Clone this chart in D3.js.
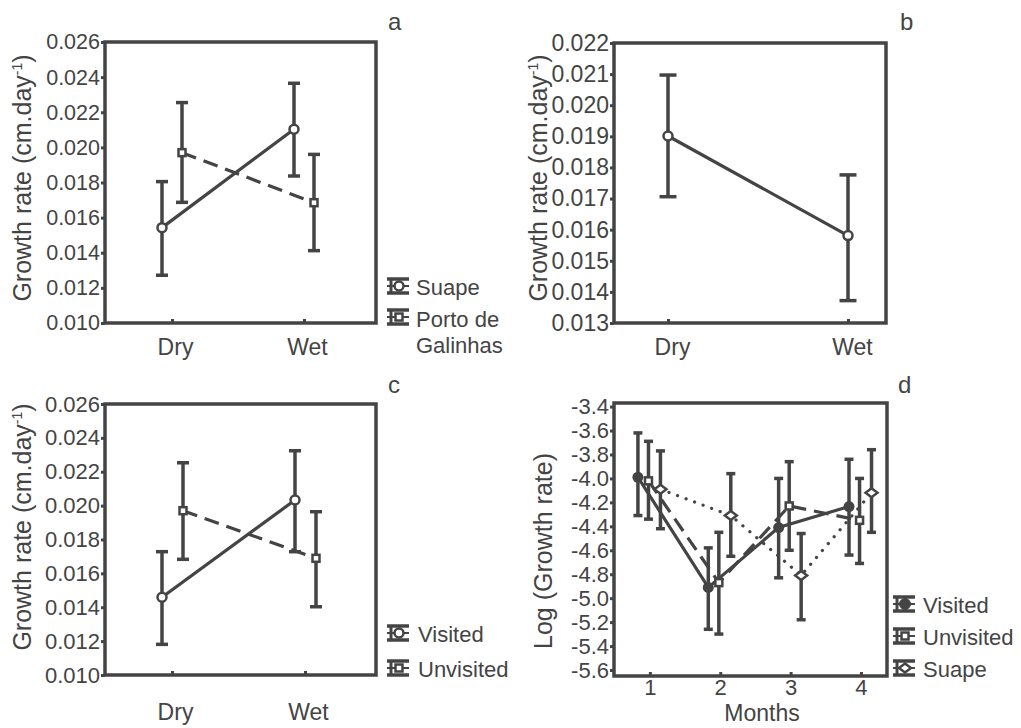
<!DOCTYPE html>
<html>
<head>
<meta charset="utf-8">
<script src="https://cdn.jsdelivr.net/npm/d3@7"></script>
<style>
body { margin: 0; background: #fff; }
svg { display: block; font-family: "Liberation Sans", Arial, sans-serif; }
.axis path { display: none; }
.axis line { stroke: #444; stroke-width: 3; }
.axis text { fill: #444; }
</style>
</head>
<body>
<script>
// categories / ticks
const seasons = ['Dry', 'Wet'];
const months = [1, 2, 3, 4];
const ticksAC = [0.010, 0.012, 0.014, 0.016, 0.018, 0.020, 0.022, 0.024, 0.026];
const ticksB = [0.013, 0.014, 0.015, 0.016, 0.017, 0.018, 0.019, 0.020, 0.021, 0.022];
const ticksD = [-3.4, -3.6, -3.8, -4.0, -4.2, -4.4, -4.6, -4.8, -5.0, -5.2, -5.4, -5.6];

// panel a: Suape vs Porto de Galinhas
const aSuapeMean = [0.01543, 0.02103];
const aSuapeLow  = [0.01272, 0.01837];
const aSuapeHigh = [0.01805, 0.02365];
const aPortoMean = [0.01970, 0.01685];
const aPortoLow  = [0.01687, 0.01412];
const aPortoHigh = [0.02255, 0.01960];

// panel b: pooled
const bMean = [0.01901, 0.01581];
const bLow  = [0.01706, 0.01372];
const bHigh = [0.02097, 0.01776];

// panel c: visited vs unvisited
const cVisitedMean   = [0.01459, 0.02033];
const cVisitedLow    = [0.01181, 0.01728];
const cVisitedHigh   = [0.01728, 0.02324];
const cUnvisitedMean = [0.01970, 0.01689];
const cUnvisitedLow  = [0.01683, 0.01403];
const cUnvisitedHigh = [0.02253, 0.01964];

// panel d: log growth rate by month
const dVisitedMean   = [-3.99, -4.91, -4.41, -4.235];
const dVisitedLow    = [-4.31, -5.26, -4.83, -4.64];
const dVisitedHigh   = [-3.62, -4.58, -4.00, -3.84];
const dUnvisitedMean = [-4.02, -4.87, -4.23, -4.35];
const dUnvisitedLow  = [-4.34, -5.30, -4.60, -4.71];
const dUnvisitedHigh = [-3.69, -4.45, -3.86, -4.00];
const dSuapeMean     = [-4.09, -4.31, -4.81, -4.12];
const dSuapeLow      = [-4.42, -4.65, -5.18, -4.45];
const dSuapeHigh     = [-3.77, -3.96, -4.46, -3.76];

const ink = '#444';

const svg = d3.select('body')
  .append('svg')
  .attr('width', 1021)
  .attr('height', 728);

function marker(sel, kind) {
  if (kind === 'circle') {
    sel.append('circle').attr('r', 4.5).attr('fill', '#fff').attr('stroke', ink).attr('stroke-width', 2.5);
  } else if (kind === 'dot') {
    sel.append('circle').attr('r', 5.5).attr('fill', ink);
  } else if (kind === 'square') {
    sel.append('rect').attr('x', -3.5).attr('y', -3.5).attr('width', 7).attr('height', 7)
      .attr('fill', '#fff').attr('stroke', ink).attr('stroke-width', 2.5);
  } else if (kind === 'diamond') {
    sel.append('path').attr('d', 'M0,-4.5L6,0L0,4.5L-6,0Z')
      .attr('fill', '#fff').attr('stroke', ink).attr('stroke-width', 2.5);
  }
}

function drawPanel(p) {
  const g = svg.append('g').attr('transform', `translate(${p.left}, ${p.top})`);

  // y axis
  g.append('g')
    .attr('class', 'axis')
    .call(d3.axisLeft(p.y).tickValues(p.yTicks).tickFormat(p.fmt)
      .tickSizeInner(4).tickSizeOuter(0).tickPadding(1))
    .selectAll('text').style('font-size', p.tickFont + 'px');

  // x axis (ticks point inward)
  g.append('g')
    .attr('class', 'axis')
    .attr('transform', `translate(0, ${p.height})`)
    .call(d3.axisBottom(p.x).tickValues(p.xTicks).tickFormat(p.xFmt)
      .tickSizeInner(-4).tickSizeOuter(0).tickPadding(p.xPad))
    .selectAll('text').style('font-size', p.xFont + 'px').attr('dx', p.xDx || 0);

  // frame
  g.append('rect')
    .attr('width', p.width).attr('height', p.height)
    .attr('fill', 'none').attr('stroke', ink).attr('stroke-width', 3.5);

  p.series.forEach((s) => {
    const pts = s.mean.map((m, i) => ({ x: p.pos(i, s.shift), m, lo: s.low[i], hi: s.high[i] }));
    const eb = g.append('g').attr('stroke', ink).attr('stroke-width', 3.5);
    pts.forEach((d) => {
      eb.append('line').attr('x1', d.x).attr('x2', d.x).attr('y1', p.y(d.lo)).attr('y2', p.y(d.hi));
      [d.lo, d.hi].forEach((v) => {
        eb.append('line').attr('x1', d.x - p.cap).attr('x2', d.x + p.cap)
          .attr('y1', p.y(v)).attr('y2', p.y(v));
      });
    });
    s.pts = pts;
  });

  p.series.forEach((s) => {
    g.append('path')
      .datum(s.pts)
      .attr('fill', 'none')
      .attr('stroke', ink)
      .attr('stroke-width', 3.2)
      .attr('stroke-linecap', s.dash === 'dot' ? 'round' : 'butt')
      .attr('stroke-dasharray', s.dash === 'dash' ? '15,8' : s.dash === 'dot' ? '0.1,9' : null)
      .attr('d', d3.line().x((d) => d.x).y((d) => p.y(d.m)));
  });

  p.series.forEach((s) => {
    s.pts.forEach((d) => {
      g.append('g').attr('transform', `translate(${d.x}, ${p.y(d.m)})`).call(marker, s.marker);
    });
  });

  // y title
  const t = svg.append('text')
    .attr('transform', `translate(${p.titleX}, ${p.titleY}) rotate(-90)`)
    .attr('text-anchor', 'middle')
    .attr('fill', ink)
    .style('font-size', '25px');
  if (p.unit) {
    t.append('tspan').text('Growth rate (cm.day');
    t.append('tspan').attr('dy', -9).style('font-size', '14px').text('-1');
    t.append('tspan').attr('dy', 9).text(')');
  } else {
    t.text(p.title);
  }

  // panel letter
  svg.append('text').attr('x', p.letterX).attr('y', p.letterY)
    .attr('fill', ink).style('font-size', '24px').text(p.letter);

  // legend
  (p.legend || []).forEach((l) => {
    const ig = svg.append('g').attr('transform', `translate(${l.ix}, ${l.iy})`)
      .attr('stroke', ink);
    ig.append('line').attr('x1', 0).attr('x2', 22).attr('y1', -7).attr('y2', -7).attr('stroke-width', 3.5);
    ig.append('line').attr('x1', 0).attr('x2', 22).attr('y1', 7).attr('y2', 7).attr('stroke-width', 3.5);
    ig.append('line').attr('x1', 0).attr('x2', 22).attr('y1', 0).attr('y2', 0).attr('stroke-width', 2);
    ig.append('line').attr('x1', 4).attr('x2', 4).attr('y1', -7).attr('y2', 7).attr('stroke-width', 3);
    ig.append('g').attr('transform', 'translate(12, 0)').call(marker, l.marker);
    l.lines.forEach((txt, k) => {
      svg.append('text').attr('x', l.tx).attr('y', l.ty + k * 26)
        .attr('fill', ink).style('font-size', '22px').text(txt);
    });
  });
}

const fmt3 = (d) => d.toFixed(3);

// a
drawPanel({
  left: 105, top: 42, width: 271, height: 281,
  x: d3.scalePoint().domain(seasons).range([67, 199]),
  y: d3.scaleLinear().domain([0.010, 0.026]).range([281, 0]),
  pos: function (i, shift) { return this.x(seasons[i]) + shift; },
  yTicks: ticksAC, fmt: fmt3, tickFont: 21.5,
  xTicks: seasons, xFmt: (d) => d, xFont: 23, xPad: 16, xDx: 3, cap: 6,
  series: [
    { mean: aSuapeMean, low: aSuapeLow, high: aSuapeHigh, shift: -10, dash: null, marker: 'circle' },
    { mean: aPortoMean, low: aPortoLow, high: aPortoHigh, shift: 10, dash: 'dash', marker: 'square' }
  ],
  unit: true, titleX: 31, titleY: 178,
  letter: 'a', letterX: 388, letterY: 30,
  legend: [
    { ix: 387, iy: 286, marker: 'circle', tx: 416, ty: 295, lines: ['Suape'] },
    { ix: 387, iy: 317, marker: 'square', tx: 416, ty: 327, lines: ['Porto de', 'Galinhas'] }
  ]
});

// b
drawPanel({
  left: 614, top: 43, width: 272, height: 280,
  x: d3.scalePoint().domain(seasons).range([54, 234]),
  y: d3.scaleLinear().domain([0.013, 0.022]).range([280, 0]),
  pos: function (i, shift) { return this.x(seasons[i]) + shift; },
  yTicks: ticksB, fmt: fmt3, tickFont: 23,
  xTicks: seasons, xFmt: (d) => d, xFont: 23, xPad: 16, xDx: 4, cap: 8.5,
  series: [
    { mean: bMean, low: bLow, high: bHigh, shift: 0, dash: null, marker: 'circle' }
  ],
  unit: true, titleX: 547, titleY: 178,
  letter: 'b', letterX: 900, letterY: 30
});

// c
drawPanel({
  left: 105, top: 404, width: 271, height: 271,
  x: d3.scalePoint().domain(seasons).range([67, 200]),
  y: d3.scaleLinear().domain([0.010, 0.026]).range([271, 0]),
  pos: function (i, shift) { return this.x(seasons[i]) + shift; },
  yTicks: ticksAC, fmt: fmt3, tickFont: 22,
  xTicks: seasons, xFmt: (d) => d, xFont: 23, xPad: 29, xDx: 3, cap: 6,
  series: [
    { mean: cVisitedMean, low: cVisitedLow, high: cVisitedHigh, shift: -10, dash: null, marker: 'circle' },
    { mean: cUnvisitedMean, low: cUnvisitedLow, high: cUnvisitedHigh, shift: 11, dash: 'dash', marker: 'square' }
  ],
  unit: true, titleX: 31, titleY: 527,
  letter: 'c', letterX: 388, letterY: 393,
  legend: [
    { ix: 387, iy: 633, marker: 'circle', tx: 418, ty: 642, lines: ['Visited'] },
    { ix: 387, iy: 668, marker: 'square', tx: 418, ty: 677, lines: ['Unvisited'] }
  ]
});

// d
drawPanel({
  left: 614, top: 403, width: 273, height: 273,
  x: d3.scaleLinear().domain([0.49, 4.37]).range([0, 273]),
  y: d3.scaleLinear().domain([-5.65, -3.37]).range([273, 0]),
  pos: function (i, shift) { return this.x(months[i] + shift); },
  yTicks: ticksD, fmt: (d) => d.toFixed(1), tickFont: 22,
  xTicks: months, xFmt: (d) => String(d), xFont: 22, xPad: 3, cap: 4.5,
  series: [
    { mean: dVisitedMean, low: dVisitedLow, high: dVisitedHigh, shift: -0.17, dash: null, marker: 'dot' },
    { mean: dUnvisitedMean, low: dUnvisitedLow, high: dUnvisitedHigh, shift: -0.02, dash: 'dash', marker: 'square' },
    { mean: dSuapeMean, low: dSuapeLow, high: dSuapeHigh, shift: 0.15, dash: 'dot', marker: 'diamond' }
  ],
  unit: false, title: 'Log (Growth rate)', titleX: 552, titleY: 551,
  letter: 'd', letterX: 898, letterY: 393,
  legend: [
    { ix: 893, iy: 604, marker: 'dot', tx: 923, ty: 613, lines: ['Visited'] },
    { ix: 893, iy: 636, marker: 'square', tx: 923, ty: 645, lines: ['Unvisited'] },
    { ix: 893, iy: 668, marker: 'diamond', tx: 923, ty: 677, lines: ['Suape'] }
  ]
});

// months title
svg.append('text').attr('x', 762).attr('y', 721).attr('text-anchor', 'middle')
  .attr('fill', ink).style('font-size', '23px').text('Months');
</script>
</body>
</html>
